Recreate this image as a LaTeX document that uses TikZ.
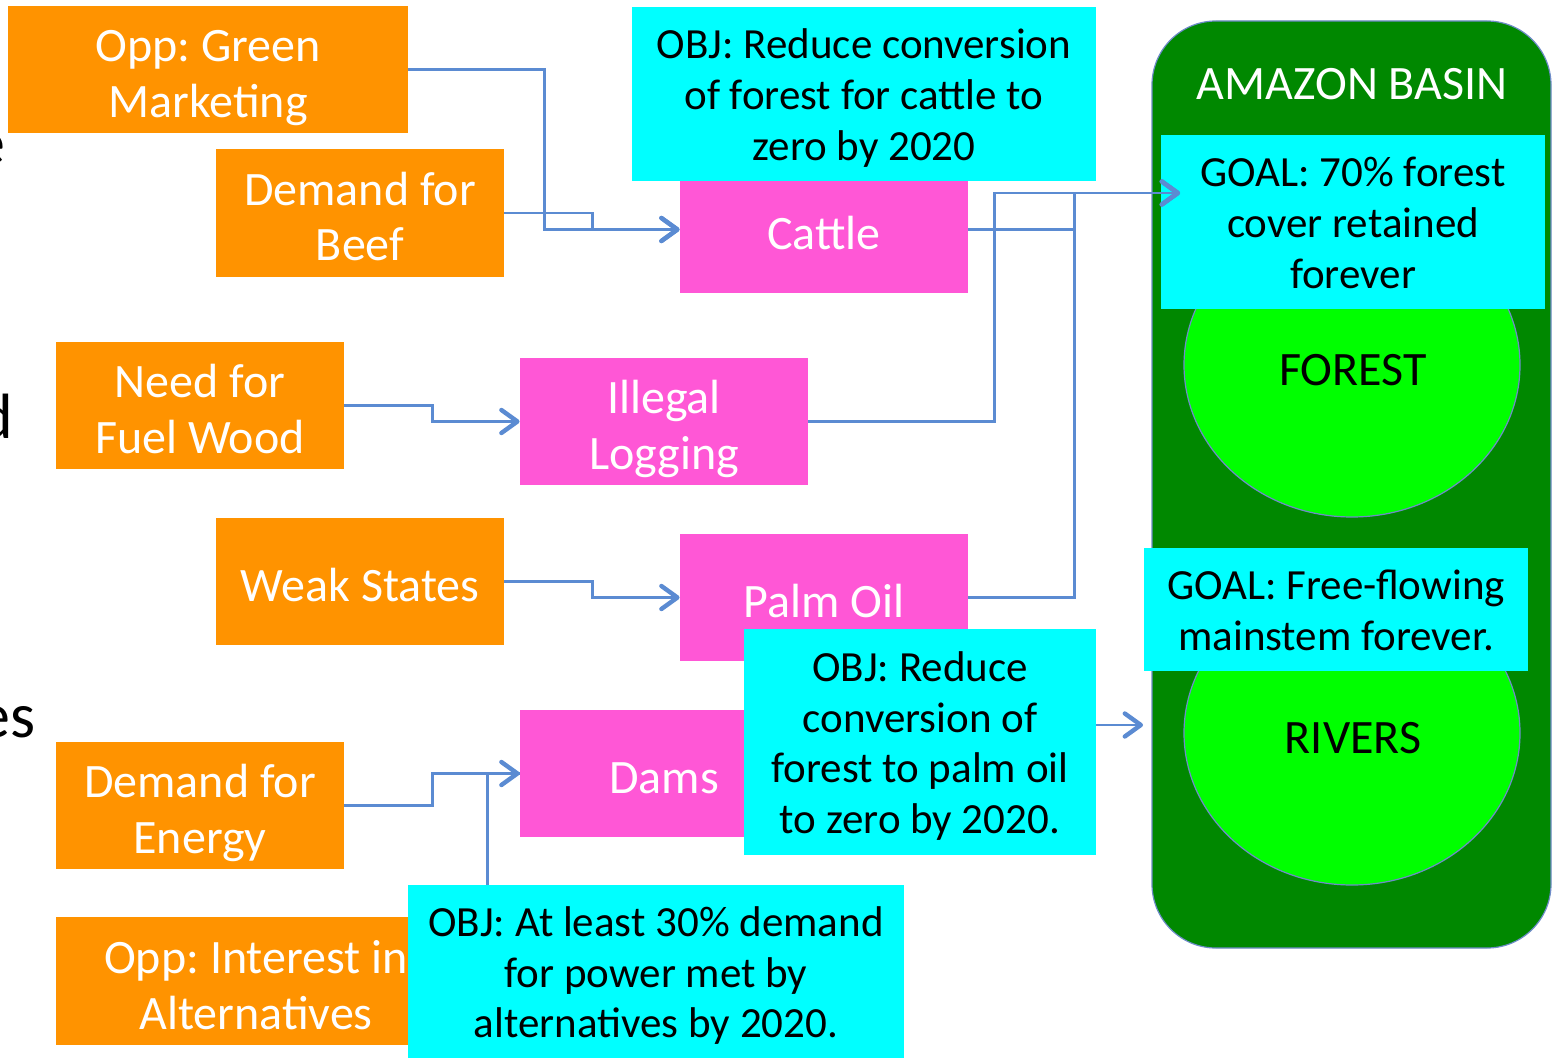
\documentclass[tikz,border=0pt]{standalone}
\usepackage{fontspec}
\setmainfont{Carlito}
\usetikzlibrary{arrows.meta,shapes.geometric}
\definecolor{org}{RGB}{255,147,0}
\definecolor{pnk}{RGB}{255,87,214}
\definecolor{cyn}{RGB}{0,255,255}
\definecolor{dgreen}{RGB}{0,136,0}
\definecolor{lgreen}{RGB}{0,255,0}
\definecolor{conn}{RGB}{91,139,210}
\definecolor{rim}{RGB}{110,140,200}
\frenchspacing
\newcommand\otop{\rule{0pt}{26pt}}
\newcommand\ctop{\rule{0pt}{21.6pt}}
\newcommand\lbot{\rule[-6pt]{0pt}{6pt}}
\begin{document}
\begin{tikzpicture}[x=0.5pt,y=-0.5pt,
  box/.style={rectangle, inner sep=0pt, align=center},
  obox/.style={box, font=\fontsize{24}{28}\selectfont, fill=org, text=white, minimum width=144pt, minimum height=63.5pt},
  pbox/.style={box, font=\fontsize{24}{28}\selectfont, fill=pnk, text=white, minimum width=144pt, minimum height=63.5pt},
  cbox/.style={box, fill=cyn, text=black, font=\fontsize{21.5}{25.3}\selectfont},
  blob/.style={ellipse, draw=rim, line width=0.6pt, fill=lgreen, inner sep=0pt, minimum width=168pt, minimum height=152pt},
  lbl/.style={inner sep=0pt, font=\fontsize{24}{28}\selectfont},
  cut/.style={inner sep=0pt, anchor=base east, font=\fontsize{32}{38}\selectfont},
  link/.style={draw=conn, line width=1.15pt, -{Straight Barb[length=8pt,width=11.5pt,line width=2.2pt,round]}},
  plain/.style={draw=conn, line width=1.15pt}]
\clip (0,0) rectangle (1552,1059);
\fill[white] (0,0) rectangle (1552,1059);

% text cut off at the left edge
\node[cut] (c1) at (6,165) {e};
\node[cut] (c2) at (14,438) {d};
\node[cut] (c3) at (36,737) {es};

% Amazon basin
\node[rectangle, rounded corners=32pt, draw=rim, line width=0.6pt, fill=dgreen,
      minimum width=199.5pt, minimum height=463.5pt, inner sep=0pt] (basin) at (1351.5,484.5) {};
\node[lbl, text=white] (bt) at (1352,84) {AMAZON BASIN};
\node[blob] (forest) at (1352,365) {};
\node[lbl] (ft) at (1353,370) {FOREST};
\node[blob] (rivers) at (1352,733) {};
\node[lbl] (rt) at (1353,738) {RIVERS};
\node[cbox, minimum width=192pt, minimum height=87pt] (gfor) at (1353,222) {\ctop GOAL: 70\% forest\\cover retained\\forever\lbot};
\node[cbox, minimum width=192pt, minimum height=61.5pt] (griv) at (1336,609.5) {\ctop GOAL: Free-flowing\\mainstem forever.\lbot};

% drivers
\node[obox, minimum width=200pt] (oppg) at (208,69.5) {\otop Opp: Green\\Marketing\lbot};
\node[obox, minimum height=64pt] (beef) at (360,213) {\otop Demand for\\Beef\lbot};
\node[obox] (fuel) at (200,405.5) {\otop Need for\\Fuel Wood\lbot};
\node[obox] (weak) at (360,581.5) {\otop Weak States\lbot};
\node[obox] (energy) at (200,805.5) {\otop Demand for\\Energy\lbot};
\node[obox, minimum width=200pt, minimum height=64pt] (oppi) at (256,981) {\otop Opp: Interest in\\Alternatives\lbot};

% threats
\node[pbox] (cattle) at (824,229.5) {\otop Cattle\lbot};
\node[pbox] (logging) at (664,421.5) {\otop Illegal\\Logging\lbot};
\node[pbox] (palm) at (824,597.5) {\otop Palm Oil\lbot};
\node[pbox] (dams) at (664,773.5) {\otop Dams\lbot};

% objectives
\node[cbox, minimum width=232pt, minimum height=87pt] (objtop) at (864,94) {\ctop OBJ: Reduce conversion\\of forest for cattle to\\zero by 2020\lbot};
\node[cbox, minimum width=176pt, minimum height=113pt] (objpalm) at (920,742) {\ctop OBJ: Reduce\\conversion of\\forest to palm oil\\to zero by 2020.\lbot};
\node[cbox, minimum width=248pt, minimum height=86.5pt] (objbot) at (656,971.5) {\ctop OBJ: At least 30\% demand\\for power met by\\alternatives by 2020.\lbot};

% connector ends
\coordinate (gtip) at (1180,193);
\coordinate (rtip) at (1143,725);

% connectors
\draw[link] (oppg.east) -- ++(136,0) |- (cattle.west);
\draw[link] (beef.east) -- ++(88,0) |- (cattle.west);
\draw[link] (fuel.east) -- ++(88,0) |- (logging.west);
\draw[link] (weak.east) -- ++(88,0) |- (palm.west);
\draw[link] (energy.east) -- ++(88,0) |- (dams.west);
\draw[plain] (objbot.north west) ++(80,0) |- (dams.west);
\draw[link] (cattle.east) -- ++(106,0) |- (gtip);
\draw[link] (logging.east) -- ++(186,0) |- (gtip);
\draw[link] (palm.east) -- ++(106,0) |- (gtip);
\draw[link] ([yshift=8.5pt]objpalm.east) -- (rtip);
\end{tikzpicture}
\end{document}
